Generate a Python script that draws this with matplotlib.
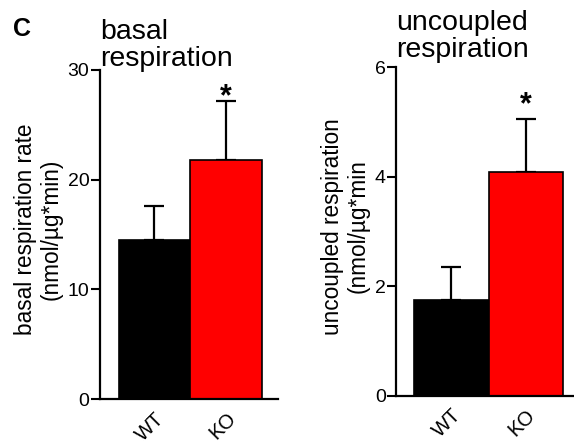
import matplotlib
matplotlib.use("Agg")
import matplotlib.pyplot as plt

plt.rcParams['font.family'] = ['Liberation Sans', 'DejaVu Sans']

groups = ['WT', 'KO']
colors = ['black', 'red']

basal_mean = [14.5, 21.75]
basal_err = [3.1, 5.45]
basal_star = 27.5

uncoupled_mean = [1.74, 4.08]
uncoupled_err = [0.61, 0.97]
uncoupled_star = 5.30


def panel(ax, means, errs, star_y, title, title_y, ylabel, label_x, ymax, yticks, xlim):
    x = range(len(groups))
    ax.bar(x, means, width=1.0, color=colors, edgecolor='black', linewidth=1.2, zorder=2)
    ax.errorbar(x, means, yerr=[[0] * len(errs), errs], fmt='none', ecolor='black',
                elinewidth=1.6, capsize=7, capthick=1.6, zorder=1)
    ax.text(1, star_y, '*', ha='center', va='center', fontsize=22, fontweight='bold')
    ax.set_ylim(0, ymax)
    ax.set_xlim(*xlim)
    ax.set_yticks(yticks)
    ax.set_xticks(list(x))
    ax.set_xticklabels(groups, rotation=45, ha='right', va='top',
                       rotation_mode='anchor', fontsize=14.5)
    for lab in ax.get_yticklabels():
        lab.set_fontsize(14)
    ax.tick_params(axis='x', length=0, pad=7)
    ax.tick_params(axis='y', length=6.5, width=1.5, pad=1)
    for s in ['top', 'right']:
        ax.spines[s].set_visible(False)
    for s in ['left', 'bottom']:
        ax.spines[s].set_linewidth(1.6)
    ax.set_ylabel(ylabel, fontsize=16.3, linespacing=1.15)
    ax.yaxis.set_label_coords(label_x, 0.515)
    ax.text(0, title_y, title, transform=ax.transAxes, ha='left', va='bottom',
            fontsize=20.5, linespacing=1.05)


fig = plt.figure(figsize=(5.74, 4.45), dpi=100)
ax1 = fig.add_axes([0.174, 0.103, 0.310, 0.740])
ax2 = fig.add_axes([0.690, 0.111, 0.308, 0.738])

panel(ax1, basal_mean, basal_err, basal_star, 'basal\nrespiration', 0.994,
      'basal respiration rate\n(nmol/µg*min)', -0.208, 30, [0, 10, 20, 30], (-0.76, 1.72))
panel(ax2, uncoupled_mean, uncoupled_err, uncoupled_star, 'uncoupled\nrespiration', 1.012,
      'uncoupled respiration\n(nmol/µg*min', -0.147, 6, [0, 2, 4, 6], (-0.74, 1.63))

fig.text(0.022, 0.918, 'C', fontsize=18, fontweight='bold')

fig.savefig('out.png', dpi=100)
